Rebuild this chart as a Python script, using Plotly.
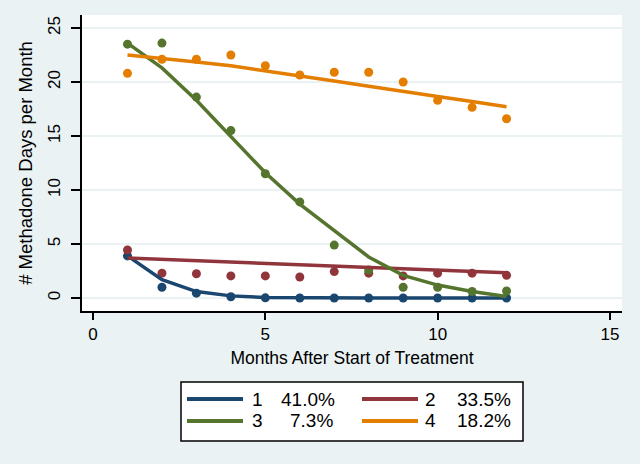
import plotly.graph_objects as go

months = list(range(1, 13))

groups = ["1", "2", "3", "4"]
shares = ["41.0%", "33.5%", "7.3%", "18.2%"]
colors = ["#1A476F", "#90353B", "#55752F", "#E37E00"]

obs = {
    "1": [3.9, 1.0, 0.45, 0.12, 0.02, 0.0, 0.0, 0.0, 0.0, 0.0, 0.0, 0.0],
    "2": [4.45, 2.3, 2.25, 2.05, 2.05, 1.95, 2.45, 2.3, 2.05, 2.3, 2.3, 2.1],
    "3": [23.5, 23.6, 18.6, 15.5, 11.5, 8.9, 4.9, 2.6, 1.0, 1.0, 0.6, 0.65],
    "4": [20.8, 22.1, 22.1, 22.5, 21.5, 20.65, 20.9, 20.9, 20.0, 18.3, 17.65, 16.6],
}
fit = {
    "1": [3.9, 1.7, 0.6, 0.2, 0.05, 0.01, 0.0, 0.0, 0.0, 0.0, 0.0, 0.0],
    "2": [3.7, 3.57, 3.44, 3.31, 3.18, 3.05, 2.93, 2.81, 2.69, 2.57, 2.45, 2.33],
    "3": [23.6, 21.3, 18.3, 15.0, 11.6, 8.7, 6.2, 3.8, 2.1, 1.2, 0.6, 0.15],
    "4": [22.5, 22.2, 21.85, 21.5, 21.05, 20.6, 20.1, 19.6, 19.1, 18.65, 18.2, 17.7],
}

x_ticks = [0, 5, 10, 15]
y_ticks = [0, 5, 10, 15, 20, 25]

BG = "#EAF2F3"
FONT = "Liberation Sans, Arial, sans-serif"

fig = go.Figure()
for g, c in zip(groups, colors):
    fig.add_trace(go.Scatter(x=months, y=obs[g], mode="markers",
                             marker=dict(color=c, size=9, line=dict(width=0)),
                             showlegend=False))
for g, c in zip(groups, colors):
    fig.add_trace(go.Scatter(x=months, y=fit[g], mode="lines",
                             line=dict(color=c, width=3.5), showlegend=False))

W, H = 640, 464
L, R, T, B = 82, 18, 15, 153
pw, ph = W - L - R, H - T - B


def px(xp):
    return (xp - L) / pw


def py(yp):
    return (H - B - yp) / ph


shapes = [dict(type="rect", xref="paper", yref="paper",
               x0=px(181), x1=px(523), y0=py(382), y1=py(441),
               line=dict(color="#000000", width=1.5), fillcolor="#FFFFFF")]
annotations = []
layout_pos = [(187, 399), (362, 399), (187, 421), (362, 421)]
num_x = [250, 423, 250, 423]
pct_x = [279, 455, 288, 455]
for i, (g, s, c) in enumerate(zip(groups, shares, colors)):
    lx, ly = layout_pos[i]
    shapes.append(dict(type="line", xref="paper", yref="paper",
                       x0=px(lx), x1=px(lx + 56), y0=py(ly), y1=py(ly),
                       line=dict(color=c, width=4)))
    annotations.append(dict(xref="paper", yref="paper", x=px(num_x[i]), y=py(ly),
                            xanchor="left", yanchor="middle", text=g, showarrow=False,
                            font=dict(family=FONT, size=19, color="#000000")))
    annotations.append(dict(xref="paper", yref="paper", x=px(pct_x[i]), y=py(ly),
                            xanchor="left", yanchor="middle", text=s, showarrow=False,
                            font=dict(family=FONT, size=19, color="#000000")))

fig.update_layout(
    width=W, height=H,
    margin=dict(l=L, r=R, t=T, b=B),
    paper_bgcolor=BG, plot_bgcolor="#FFFFFF",
    font=dict(family=FONT, size=17, color="#000000"),
    showlegend=False,
    shapes=shapes, annotations=annotations,
    xaxis=dict(range=[-0.32, 15.35], tickvals=x_ticks, showgrid=False, zeroline=False,
               automargin=False,
               showline=True, linecolor="#000000", linewidth=1.5,
               ticks="outside", ticklen=7, tickcolor="#000000", tickwidth=1.5,
               tickfont=dict(size=17),
               title=dict(text="Months After Start of Treatment", standoff=9,
                          font=dict(size=17.5))),
    yaxis=dict(range=[-1.2, 26.2], tickvals=y_ticks, showgrid=True, gridcolor=BG,
               gridwidth=1.5, zeroline=False, automargin=False,
               showline=True, linecolor="#000000", linewidth=1.5,
               ticks="outside", ticklen=9, tickcolor="#000000", tickwidth=1.5,
               tickangle=-90, tickfont=dict(size=17), ticklabelstandoff=4,
               title=dict(text="# Methadone Days per Month", standoff=8,
                          font=dict(size=18.5))),
)

fig.write_html("out.html",
               config={"displayModeBar": False},
               post_script="document.body.style.margin='0';"
                           "document.body.style.background='" + BG + "';")
